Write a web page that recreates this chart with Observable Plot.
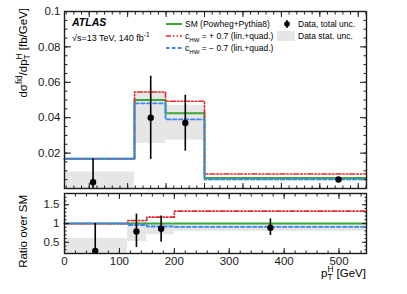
<!DOCTYPE html>
<html><head><meta charset="utf-8">
<script src="https://cdn.jsdelivr.net/npm/d3@7"></script>
<script src="https://cdn.jsdelivr.net/npm/@observablehq/plot@0.6"></script>
<style>
html,body{margin:0;padding:0;background:#fff;}
#chart{position:relative;width:407px;height:294px;}
#chart svg{position:absolute;left:0;overflow:visible;}
</style></head><body><div id="chart"></div>
<script>
// ---------- data ----------
const topEdges   = [0, 127.5, 184, 255, 550];
const topSM      = [0.0168, 0.0500, 0.0425, 0.0059];
const topPos     = [0.0168, 0.0545, 0.0493, 0.0082];
const topNeg     = [0.0168, 0.0481, 0.0390, 0.0051];
const topStatLo  = [0, 0.0255, 0.0273, 0.0042];
const topStatHi  = [0.0093, 0.0545, 0.0470, 0.0062];
const topDataX   = [52, 157, 220, 499];
const topDataY   = [0.0036, 0.0400, 0.0370, 0.0051];
const topErrLo   = [-0.01, 0.0164, 0.0211, 0.0046];
const topErrHi   = [0.0168, 0.0634, 0.0527, 0.0057];

const ratioEdges  = [0, 115, 150, 200, 550];
const ratioSM     = [1, 1, 1, 1];
const ratioPos    = [0.995, 1.08, 1.17, 1.33];
const ratioNeg    = [1.005, 0.96, 0.92, 0.91];
const ratioStatLo = [0, 0.52, 0.70, 0.79];
const ratioStatHi = [0.60, 1.05, 0.97, 0.99];
const ratioDataX  = [56, 131, 176, 375];
const ratioDataY  = [0.27, 0.79, 0.86, 0.89];
const ratioErrLo  = [0, 0.36, 0.50, 0.68];
const ratioErrHi  = [1.0, 1.25, 1.20, 1.12];

// tick positions / labels
const topYMajor   = [0.02, 0.04, 0.06, 0.08, 0.1];
const topYMinor   = d3.range(0, 0.1001, 0.005);
const topXMajor   = [45, 115, 185, 255, 325, 395, 465, 535];
const topXMinor   = d3.range(3, 550, 14);
const ratioXMajor = [0, 100, 200, 300, 400, 500];
const ratioXMinor = d3.range(0, 551, 20);
const ratioYMajor = [0.5, 1, 1.5];
const ratioYMinor = d3.range(0.2, 1.8001, 0.1);

// ---------- helpers ----------
const FONT = "'Liberation Sans', Arial, Helvetica, sans-serif";
const W = 407, ML = 64, MR = 41;
const GREEN = "#39a839", RED = "#e5242c", BLUE = "#3b87f5", GRAY = "#e6e6e6", INK = "#1a1a1a";
const REDDASH = "5,2,1.5,2,1.5,2", BLUEDASH = "3.5,2.5";

const steps = (edges, vals) => vals.map((v, i) => ({x: edges[i], y: v}))
  .concat([{x: edges[edges.length - 1], y: vals[vals.length - 1]}]);
const bins = (edges, lo, hi) => lo.map((l, i) => ({x1: edges[i], x2: edges[i + 1], y1: l, y2: hi[i]}));
const points = (xs, ys, lo, hi) => xs.map((x, i) => ({x, y: ys[i], lo: lo[i], hi: hi[i]}));

function tickSet(xMaj, xMin, yMaj, yMin, lx, ly) {
  const o = {stroke: INK, strokeWidth: 1, fill: "none", label: null};
  const out = [];
  for (const [arr, len] of [[xMaj, lx], [xMin, lx / 2]]) {
    out.push(Plot.axisX(arr, {...o, anchor: "bottom", tickSize: len, insetBottom: len}));
    out.push(Plot.axisX(arr, {...o, anchor: "top", tickSize: len, insetTop: len}));
  }
  for (const [arr, len] of [[yMaj, ly], [yMin, ly / 2]]) {
    out.push(Plot.axisY(arr, {...o, anchor: "left", tickSize: len, insetLeft: len}));
    out.push(Plot.axisY(arr, {...o, anchor: "right", tickSize: len, insetRight: len}));
  }
  return out;
}

function dataMarks(edges, lo, hi, sm, pos, neg, pts) {
  return [
    Plot.rect(bins(edges, lo, hi), {x1: "x1", x2: "x2", y1: "y1", y2: "y2", fill: GRAY, clip: true}),
    Plot.line(steps(edges, sm), {x: "x", y: "y", curve: "step-after", stroke: GREEN, strokeWidth: 2}),
    Plot.line(steps(edges, pos), {x: "x", y: "y", curve: "step-after", stroke: RED, strokeWidth: 1.6, strokeDasharray: REDDASH}),
    Plot.line(steps(edges, neg), {x: "x", y: "y", curve: "step-after", stroke: BLUE, strokeWidth: 1.8, strokeDasharray: BLUEDASH}),
    Plot.ruleX(pts, {x: "x", y1: "lo", y2: "hi", stroke: "#000", strokeWidth: 1.6, clip: true}),
    Plot.dot(pts, {x: "x", y: "y", r: 3.2, fill: "#000"})
  ];
}

const fmt = d => String(+(+d).toFixed(3));
const baseStyle = {fontFamily: FONT, fontSize: "11px", background: "transparent", color: INK, overflow: "visible"};

// ---------- top panel ----------
const topPlot = Plot.plot({
  width: W, height: 190, marginLeft: ML, marginRight: MR, marginTop: 11, marginBottom: 2,
  style: baseStyle,
  x: {domain: [0, 550]},
  y: {domain: [0, 0.1]},
  marks: [
    ...dataMarks(topEdges, topStatLo, topStatHi, topSM, topPos, topNeg,
                 points(topDataX, topDataY, topErrLo, topErrHi)),
    ...tickSet(topXMajor, topXMinor, topYMajor, topYMinor, 5, 7),
    Plot.axisY(topYMajor, {anchor: "left", tickSize: 0, tickPadding: 4, tickFormat: fmt, label: null, fontSize: 11.5}),
    Plot.frame({stroke: INK, strokeWidth: 1.4})
  ]
});

// ---------- ratio panel ----------
const botPlot = Plot.plot({
  width: W, height: 104, marginLeft: ML, marginRight: MR, marginTop: 3, marginBottom: 41,
  style: baseStyle,
  x: {domain: [0, 550]},
  y: {domain: [0.2, 1.8]},
  marks: [
    ...dataMarks(ratioEdges, ratioStatLo, ratioStatHi, ratioSM, ratioPos, ratioNeg,
                 points(ratioDataX, ratioDataY, ratioErrLo, ratioErrHi)),
    ...tickSet(ratioXMajor, ratioXMinor, ratioYMajor, ratioYMinor, 5, 5),
    Plot.axisY(ratioYMajor, {anchor: "left", tickSize: 0, tickPadding: 5, tickFormat: fmt, label: null, fontSize: 11.5}),
    Plot.axisX(ratioXMajor, {anchor: "bottom", tickSize: 0, tickPadding: 3, tickFormat: fmt, label: null, fontSize: 11.5}),
    Plot.frame({stroke: INK, strokeWidth: 1.4})
  ]
});

const chart = document.getElementById("chart");
topPlot.style.top = "0px";
botPlot.style.top = "190px";
chart.appendChild(topPlot);
chart.appendChild(botPlot);

// ---------- rich text ----------
function rich(svg, {x, y, size, anchor = "start", rotate = 0, weight, style}, parts) {
  const g = d3.select(svg).append("text")
    .attr("transform", `translate(${x},${y})` + (rotate ? ` rotate(${rotate})` : ""))
    .attr("text-anchor", anchor).attr("font-size", size).attr("fill", "#000")
    .attr("font-family", FONT).style("white-space", "pre");
  if (weight) g.attr("font-weight", weight);
  if (style) g.attr("font-style", style);
  let cur = 0, prev = null;
  for (const p of parts) {
    const [t, kind = "n", stack = false] = p;
    const off = kind === "sup" ? -0.42 * size : kind === "sub" ? 0.3 * size : 0;
    const ts = g.append("tspan").text(t).attr("dy", off - cur)
      .attr("font-size", kind === "n" ? size : size * 0.72);
    if (stack && prev) ts.attr("dx", -prev.node().getComputedTextLength());
    cur = off; prev = ts;
  }
  return g;
}

// axis titles
rich(topPlot, {x: 27, y: 8, size: 11.5, anchor: "end", rotate: -90},
  [["dσ"], ["fid", "sup"], ["/dp"], ["T", "sub"], ["H", "sup", true], [" [fb/GeV]"]]);
rich(botPlot, {x: 27, y: 5, size: 11.5, anchor: "end", rotate: -90}, [["Ratio over SM"]]);
rich(botPlot, {x: 366, y: 87, size: 11.5, anchor: "end"},
  [["p"], ["T", "sub"], ["H", "sup", true], [" [GeV]"]]);

// ATLAS label
rich(topPlot, {x: 72, y: 26, size: 10.5, weight: "bold", style: "italic"}, [["ATLAS"]]);
rich(topPlot, {x: 72, y: 41, size: 9}, [["√s=13 TeV, 140 fb"], ["-1", "sup"]]);

// legend
const ts = d3.select(topPlot);
const LX1 = 166, LX2 = 182, LS = 8.5;
[[24, GREEN, null, 2], [36, RED, REDDASH, 1.6], [48, BLUE, BLUEDASH, 1.8]].forEach(([y, c, dash, w]) => {
  const l = ts.append("line").attr("x1", LX1).attr("x2", LX2).attr("y1", y).attr("y2", y)
    .attr("stroke", c).attr("stroke-width", w);
  if (dash) l.attr("stroke-dasharray", dash);
});
rich(topPlot, {x: 185, y: 27, size: LS}, [["SM (Powheg+Pythia8)"]]);
rich(topPlot, {x: 185, y: 39, size: LS}, [["c"], ["HW", "sub"], [" = + 0.7 (lin.+quad.)", "n"]]);
rich(topPlot, {x: 185, y: 51, size: LS}, [["c"], ["HW", "sub"], [" = − 0.7 (lin.+quad.)", "n"]]);
ts.append("line").attr("x1", 287).attr("x2", 287).attr("y1", 20).attr("y2", 28).attr("stroke", "#000").attr("stroke-width", 1.4);
ts.append("circle").attr("cx", 287).attr("cy", 24).attr("r", 2.8).attr("fill", "#000");
rich(topPlot, {x: 298, y: 27, size: LS}, [["Data, total unc."]]);
ts.append("rect").attr("x", 277).attr("y", 31).attr("width", 18).attr("height", 10).attr("fill", GRAY);
rich(topPlot, {x: 298, y: 39, size: LS}, [["Data stat. unc."]]);
</script></body></html>
